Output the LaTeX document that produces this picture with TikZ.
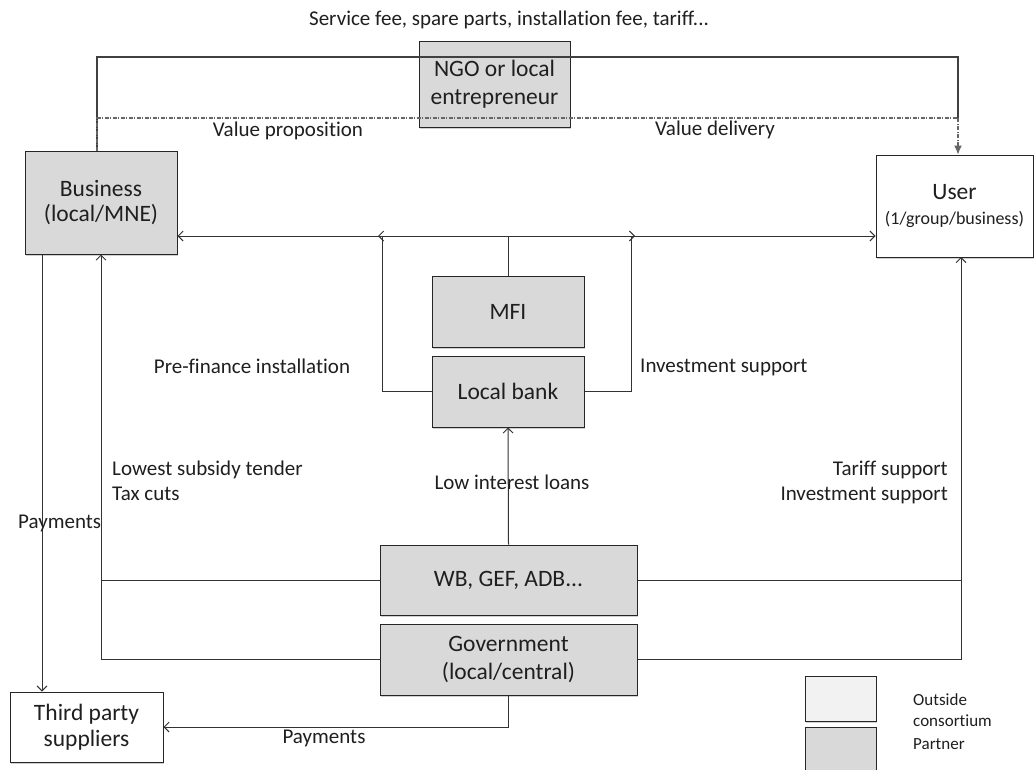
\documentclass[tikz,border=0pt]{standalone}
\usepackage{fontspec}
\setmainfont[Ligatures=NoCommon]{Carlito}
\usetikzlibrary{arrows.meta,shadows}
\definecolor{boxgray}{HTML}{D9D9D9}
\definecolor{lightbox}{HTML}{F2F2F2}
\definecolor{txt}{HTML}{1F1F1F}
\begin{document}
\begin{tikzpicture}[x=1pt,y=-1pt,
  box/.style={draw=black!85,line width=1pt,minimum width=#1,inner sep=0pt,align=center,
     text=txt,font=\fontsize{23.5}{27.5}\selectfont,
     drop shadow={shadow xshift=1.2pt,shadow yshift=-1.5pt,fill=black!30,opacity=0.6}},
  partner/.style={box=#1,fill=boxgray},
  outside/.style={box=#1,fill=white},
  lbl/.style={text=txt,font=\fontsize{21}{25}\selectfont,inner sep=0pt,align=left},
  conn/.style={draw=black!80,line width=1pt},
  barb/.style={-{Straight Barb[length=5pt,width=10pt,line width=0.9pt]}},
  barbs/.style={{Straight Barb[length=5pt,width=10pt,line width=0.9pt]}-{Straight Barb[length=5pt,width=10pt,line width=0.9pt]}},
]
\useasboundingbox (0,0) rectangle (1035,769);
\fill[white] (0,0) rectangle (1035,769);

% boxes
\node[partner=151pt,minimum height=86pt] (ngo) at (494.5,84) {NGO or local\\entrepreneur};
\node[partner=152pt,minimum height=103pt] (bus) at (101,202.5) {Business\\[-3pt](local/MNE)};
\node[outside=157pt,minimum height=102pt] (user) at (954.5,206) {User\\[-3pt]{\fontsize{18}{22}\selectfont (1/group/business)}};
\node[partner=152pt,minimum height=71pt] (mfi) at (508,311.5) {MFI};
\node[partner=152pt,minimum height=71pt] (bank) at (508,391.5) {Local bank};
\node[partner=257pt,minimum height=70pt] (wb) at (508.5,580) {WB, GEF, ADB...};
\node[partner=257pt,minimum height=71pt] (gov) at (508.5,659.5) {Government\\(local/central)};
\node[outside=153pt,minimum height=70pt] (third) at (86.5,727) {Third party\\[-1pt]suppliers};
\node[box=71pt,minimum height=45pt,fill=lightbox] (leg1) at (840.5,698.5) {};
\node[box=71pt,minimum height=46pt,fill=boxgray] (leg2) at (840.5,750) {};

% helper coordinates
\coordinate (tl) at (97,57);
\coordinate (tr) at (958,57);
\coordinate (dl) at (97,118);
\coordinate (dr) at (958,118);
\coordinate (h) at (0,236);
\coordinate (bl) at (382,236);
\coordinate (br) at (631,236);
\coordinate (ur) at (961,257);
\coordinate (pl) at (42,0);

% top connectors
\draw[conn,draw=black!75,line width=1.7pt] (bus.north -| tl) -- (tl) -- (tr) -- (dr);
\draw[conn,draw=black!60,line width=1.2pt,dash pattern=on 4pt off 1.5pt on 1pt off 1.5pt] (bus.north -| dl) -- (dl) -- (dr);
\draw[conn,draw=black!60,line width=1.2pt,dash pattern=on 4pt off 1.5pt on 1pt off 1.5pt,-{Latex[length=9pt,width=8pt]}] (dr) -- (user.north -| dr);

% middle connectors
\draw[conn,barbs] (bus.east |- h) -- (user.west |- h);
\draw[conn] (mfi.north) -- (mfi.north |- h);
\draw[conn,barb] (bank.west) -| (bl) -- ++(-4,0);
\draw[conn,barb] (bank.east) -| (br) -- ++(4,0);
\draw[conn,barb] (wb.north) -- (bank.south);

% left/right support
\draw[conn,barb] (gov.west) -| (bus.south);
\draw[conn] (wb.west) -- (wb.west -| bus.south);
\draw[conn,barb] (gov.east) -| (ur);
\draw[conn] (wb.east) -- (wb.east -| ur);

% payments
\draw[conn,barb] (bus.south -| pl) -- (third.north -| pl);
\draw[conn,barb] (gov.south) |- (third.east);

% labels
\node[lbl] (l1) at (509,20) {Service fee, spare parts, installation fee, tariff...};
\node[lbl] (l2) at (288,131) {Value proposition};
\node[lbl] (l3) at (715,130) {Value delivery};
\node[lbl] (l4) at (252,366) {Pre-finance installation};
\node[lbl,anchor=west] (l5) at (640,367) {Investment support};
\node[lbl,anchor=west,align=left] (l6) at (112,481) {Lowest subsidy tender\\Tax cuts};
\node[lbl] (l7) at (512,482) {Low interest loans};
\node[lbl,anchor=east,align=right] (l8) at (948,482) {Tariff support\\Investment support};
\node[lbl,anchor=west] (l9) at (18,523) {Payments};
\node[lbl] (l10) at (324,738) {Payments};
\node[lbl,anchor=west,font=\fontsize{17}{21}\selectfont] (l11) at (913,710) {Outside\\consortium};
\node[lbl,anchor=west,font=\fontsize{17}{21}\selectfont] (l12) at (913,744) {Partner};
\end{tikzpicture}
\end{document}
